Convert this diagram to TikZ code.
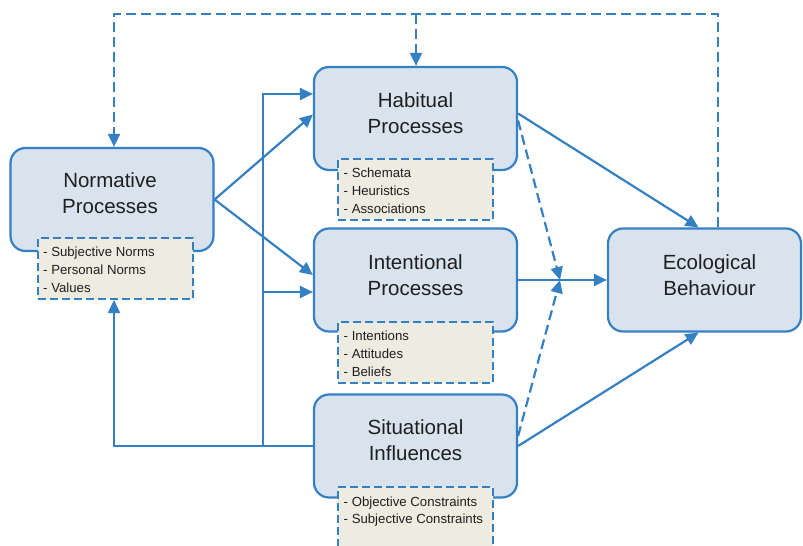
\documentclass[tikz,border=0pt]{standalone}
\usepackage{fontspec}
\setmainfont{Liberation Sans}
\usetikzlibrary{arrows.meta,calc}
\definecolor{edge}{HTML}{3580C3}
\definecolor{boxfill}{HTML}{D9E3EE}
\definecolor{notefill}{HTML}{EEEBE1}
\definecolor{ink}{HTML}{1F1F1F}

\begin{document}
\begin{tikzpicture}[x=1pt,y=-1pt,
  proc/.style={draw=edge, line width=2.2pt, fill=boxfill, rounded corners=15pt,
    minimum width=203pt, minimum height=103pt, inner sep=0pt},
  note/.style={draw=edge, line width=2pt, fill=notefill, dash pattern=on 8pt off 4pt,
    minimum width=155pt, minimum height=61pt, inner sep=0pt},
  title/.style={font=\fontsize{20.5}{26}\selectfont, text=ink, align=center, inner sep=0pt},
  item/.style={font=\fontsize{13.2}{18}\selectfont, text=ink, inner sep=0pt, anchor=base west},
  link/.style={draw=edge, line width=2.2pt},
  conn/.style={link, -{Triangle[length=13pt,width=12pt]}},
  dconn/.style={conn, dash pattern=on 10pt off 5pt},
]
\useasboundingbox (0,0) rectangle (803,546);

% process boxes
\node[proc] (norm) at (112,199.5) {};
\node[proc] (hab) at (415.5,118.5) {};
\node[proc] (int) at (415.5,280) {};
\node[proc] (sit) at (415.5,446) {};
\node[proc, minimum width=193pt] (eco) at (704.5,280) {};

% box titles
\node[title] (normT) at ($(norm.center)+(-2,-6)$) {Normative\\Processes};
\node[title] (habT) at ($(hab.center)+(0,-5)$) {Habitual\\Processes};
\node[title] (intT) at ($(int.center)+(0,-5)$) {Intentional\\Processes};
\node[title] (sitT) at ($(sit.center)+(0,-6)$) {Situational\\Influences};
\node[title] (ecoT) at ($(eco.center)+(5,-5)$) {Ecological\\Behaviour};

% dashed note boxes with their items
\node[note] (nnote) at (115.5,268.5) {};
\node[note] (hnote) at (415.5,189) {};
\node[note] (inote) at (415.5,352) {};
\node[note, minimum height=70pt] (snote) at (415.5,522) {};

\foreach \t [count=\i] in {Subjective Norms, Personal Norms, Values}
  \node[item] (nnote-\i) at ($(nnote.north west)+(6,{18*\i+1})$) {- \t};
\foreach \t [count=\i] in {Schemata, Heuristics, Associations}
  \node[item] (hnote-\i) at ($(hnote.north west)+(6.5,{18*\i+2})$) {- \t};
\foreach \t [count=\i] in {Intentions, Attitudes, Beliefs}
  \node[item] (inote-\i) at ($(inote.north west)+(6.5,{18*\i+2})$) {- \t};
\foreach \t [count=\i] in {Objective Constraints, Subjective Constraints}
  \node[item] (snote-\i) at ($(snote.north west)+(6.5,{17*\i+3})$) {- \t};

% feedback loop along the top
\coordinate (tl) at (114,14);
\coordinate (tm) at (416,14);
\coordinate (tr) at (718,14);
\draw[dconn] (eco.north -| tr) -- (tr) -- (tl) -- (norm.north -| tl);
\draw[dconn] (tm) -- (tm |- hab.north);

% situational influences on the left
\coordinate (ja) at (263,94);
\coordinate (jb) at (263,292);
\coordinate (jc) at (sit.west -| ja);
\draw[conn] (jc) -- (ja) -- (ja -| hab.west);
\draw[conn] (jb) -- (jb -| int.west);
\draw[conn] (sit.west) -- (sit.west -| tl) -- (tl |- nnote.south);

% normative processes
\draw[conn] (norm.east) -- ($(hab.west)+(0,-4)$);
\draw[conn] (norm.east) -- ($(int.west)+(0,-5)$);

% paths to behaviour
\coordinate (jn) at (560,280);
\draw[conn] ($(hab.east)+(0,-5)$) -- ($(eco.north)+(-6,0)$);
\draw[dconn] ($(hab.east)+(0,2)$) -- (jn);
\draw[conn] (int.east) -- (eco.west);
\draw[dconn] ($(sit.east)+(0,-10)$) -- (jn);
\draw[conn] (sit.east) -- ($(eco.south)+(-6,0)$);
\end{tikzpicture}
\end{document}
